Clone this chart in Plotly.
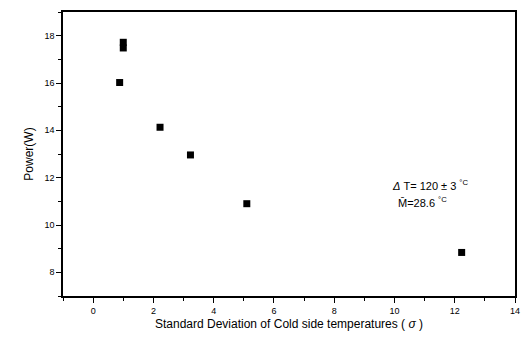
import plotly.graph_objects as go

sigma = [0.88, 1.0, 1.0, 2.22, 3.23, 5.1, 12.23]
power = [16.02, 17.72, 17.48, 14.13, 12.96, 10.9, 8.84]

x_ticks = [0, 2, 4, 6, 8, 10, 12, 14]
y_ticks = [8, 10, 12, 14, 16, 18]

fig = go.Figure()
fig.add_trace(go.Scatter(x=sigma, y=power, mode="markers",
                         marker=dict(symbol="square", size=7, color="black"),
                         showlegend=False))

axis_common = dict(showline=True, linecolor="black", linewidth=1.5, mirror=True,
                   ticks="outside", ticklen=5, tickwidth=1, tickcolor="black",
                   showgrid=False, zeroline=False,
                   tickfont=dict(family="Arial, Liberation Sans", size=9, color="black"))

fig.update_xaxes(range=[-1, 14], tickvals=x_ticks,
                 minor=dict(dtick=1, tick0=0, ticks="outside", ticklen=3, tickcolor="black"),
                 title=dict(text="Standard Deviation of Cold side temperatures ( <i>σ</i> )",
                            font=dict(family="Arial, Liberation Sans", size=12, color="black"),
                            standoff=5),
                 **axis_common)
fig.update_yaxes(range=[7, 19], tickvals=y_ticks,
                 minor=dict(dtick=1, tick0=0, ticks="outside", ticklen=3, tickcolor="black"),
                 title=dict(text="Power(W)",
                            font=dict(family="Arial, Liberation Sans", size=12, color="black"),
                            standoff=8),
                 **axis_common)

fig.add_annotation(x=9.85, y=11.7, xref="x", yref="y", showarrow=False,
                   text="<i>Δ</i> T= 120 ± 3 <sup>°C</sup>",
                   xanchor="left",
                   font=dict(family="Arial, Liberation Sans", size=11, color="black"))
fig.add_annotation(x=10.05, y=10.98, xref="x", yref="y", showarrow=False,
                   text="M̄=28.6 <sup>°C</sup>",
                   xanchor="left",
                   font=dict(family="Arial, Liberation Sans", size=11, color="black"))

fig.update_layout(width=530, height=339, margin=dict(l=63, r=13, t=10, b=43),
                  paper_bgcolor="white", plot_bgcolor="white")

fig.write_html("out.html")
